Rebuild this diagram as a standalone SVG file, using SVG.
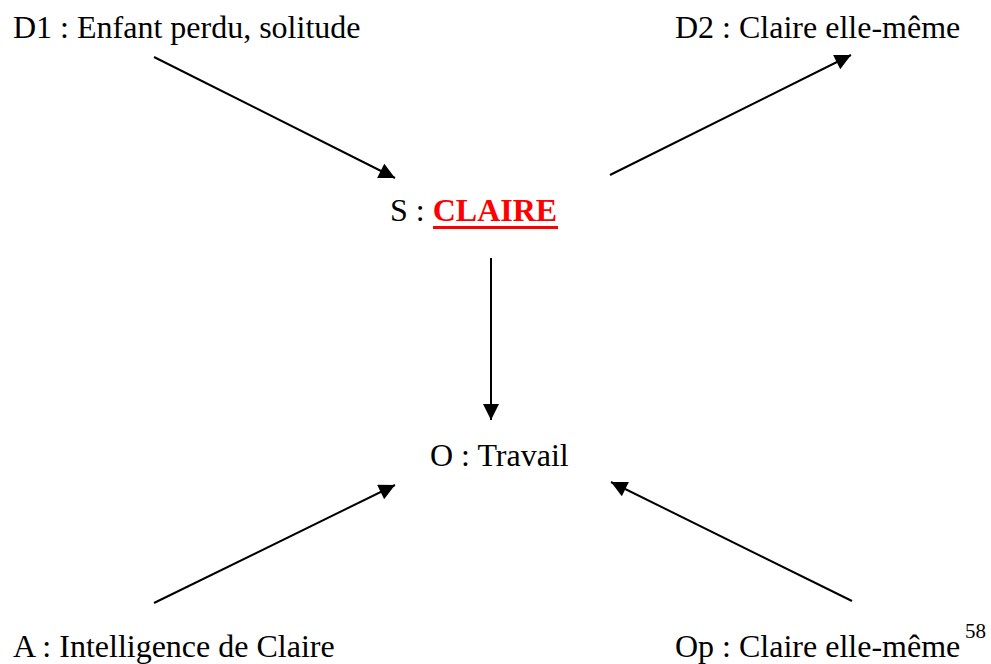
<svg xmlns="http://www.w3.org/2000/svg" width="991" height="664" viewBox="0 0 991 664">
  <style>
    .lbl { font-family: "Liberation Serif", "Times New Roman", serif; font-size: 32px; fill: #000; }
    .hl { fill: #ff0000; font-weight: bold; }
    .sup { font-family: "Liberation Serif", "Times New Roman", serif; font-size: 21px; fill: #000; }
    .edge { stroke: #000; stroke-width: 2; fill: none; marker-end: url(#head); }
  </style>
  <defs>
    <marker id="head" viewBox="0 0 10 10" refX="10" refY="5" markerWidth="19" markerHeight="16" markerUnits="userSpaceOnUse" orient="auto">
      <path d="M0,0 L10,5 L0,10 Z" fill="#000"/>
    </marker>
  </defs>
  <rect width="991" height="664" fill="#fff"/>

  <g id="connectors">
    <line class="edge" x1="154" y1="57" x2="395" y2="178"/>
    <line class="edge" x1="610" y1="175" x2="851" y2="55"/>
    <line class="edge" x1="491" y1="258" x2="491" y2="420"/>
    <line class="edge" x1="154" y1="603" x2="395" y2="485"/>
    <line class="edge" x1="852" y1="601" x2="611" y2="482"/>
  </g>

  <g id="d1">
    <text class="lbl" x="13" y="38">D1 : Enfant perdu, solitude</text>
  </g>
  <g id="d2">
    <text class="lbl" x="675" y="38">D2 : Claire elle-même</text>
  </g>
  <g id="s">
    <text class="lbl" x="390" y="221">S : <tspan class="hl">CLAIRE</tspan></text>
    <rect x="433" y="226" width="125" height="3" fill="#ff0000"/>
  </g>
  <g id="o">
    <text class="lbl" x="430" y="466">O : Travail</text>
  </g>
  <g id="a">
    <text class="lbl" x="13" y="657">A : Intelligence de Claire</text>
  </g>
  <g id="op">
    <text class="lbl" x="675" y="657">Op : Claire elle-même</text>
    <text class="sup" x="965" y="638">58</text>
  </g>
</svg>
